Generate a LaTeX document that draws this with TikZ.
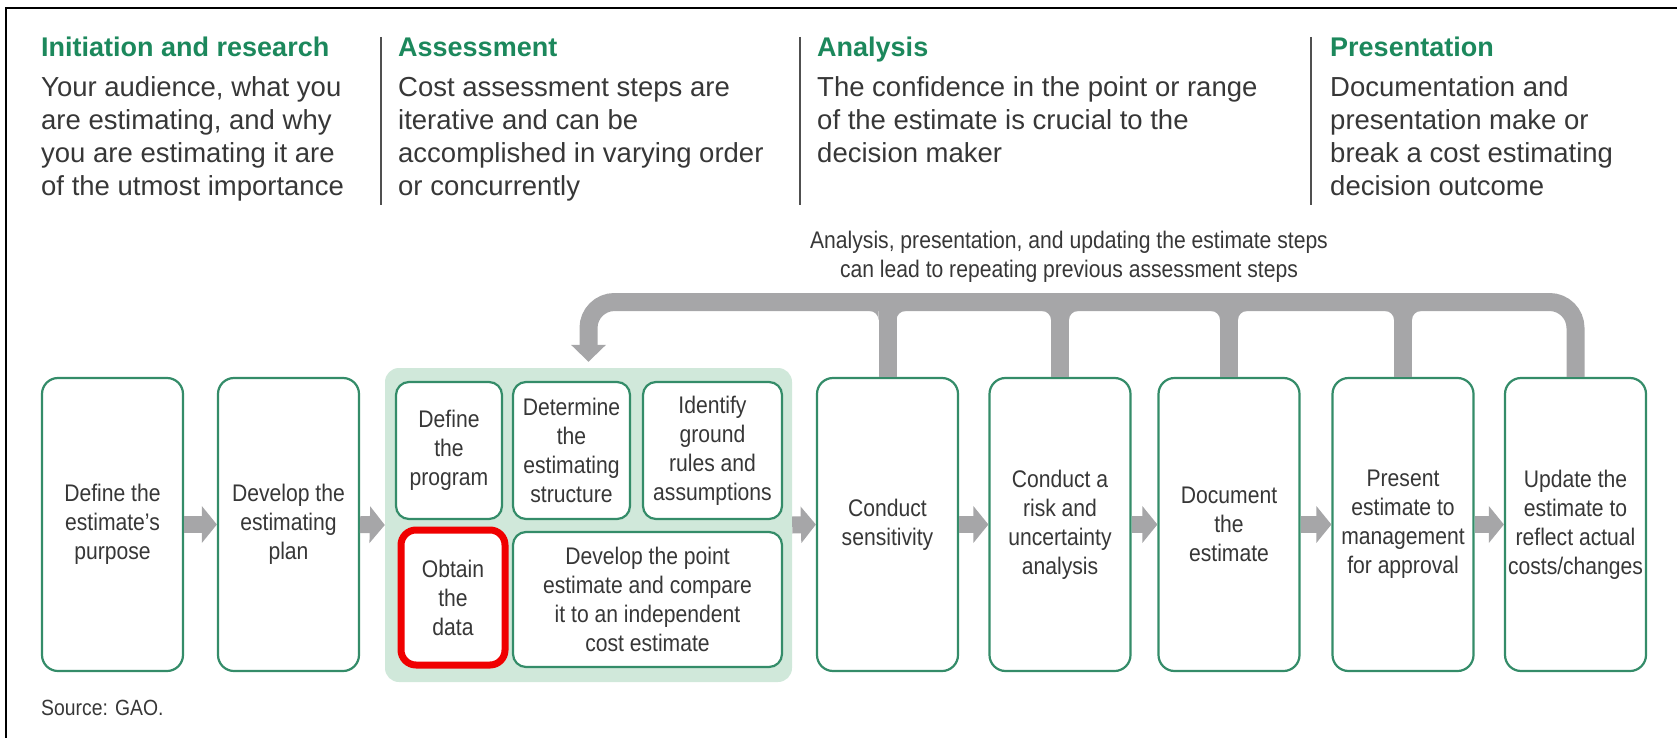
\documentclass[tikz,border=0pt]{standalone}
\usepackage{fontspec}
\setmainfont{Liberation Sans}
\newfontfamily\boxfont{Liberation Sans}[FakeStretch=0.88]
\usetikzlibrary{arrows.meta,calc}
\definecolor{boxgreen}{RGB}{52,140,105}
\definecolor{mint}{RGB}{208,232,218}
\definecolor{loopgray}{RGB}{166,166,168}
\definecolor{textgray}{RGB}{55,55,55}
\definecolor{hdrgreen}{RGB}{28,136,92}
\definecolor{divgray}{RGB}{80,80,80}
\definecolor{hired}{RGB}{240,0,0}
\begin{document}
\begin{tikzpicture}[x=1pt,y=-1pt,
  stepbox/.style={draw=boxgreen, line width=2.2pt, rounded corners=16pt, fill=white,
    minimum width=141pt, minimum height=293pt, inner sep=0pt, align=center,
    text=textgray, font=\boxfont\fontsize{24}{29}\selectfont},
  subbox/.style={stepbox, rounded corners=13pt, minimum height=137pt},
  flow/.style={draw=loopgray, line width=17pt, -{Triangle[length=15pt,width=36pt]}},
  loopline/.style={draw=loopgray, line width=18pt},
  hdr/.style={anchor=base west, inner sep=0pt, text=hdrgreen, font=\bfseries\fontsize{27}{32.7}\selectfont},
  body/.style={anchor=base west, inner sep=0pt, align=left, text=textgray, font=\fontsize{27.5}{32.7}\selectfont},
  divider/.style={draw=divgray, line width=1.5pt},
  note/.style={inner sep=0pt, align=center, text=textgray, font=\boxfont\fontsize{24}{29}\selectfont}
]
\useasboundingbox (0,0) rectangle (1677,738);
% frame (top and left edges)
\draw[line width=2.6pt] (1677,8) -- (6,8) -- (6,738);

% headers (multi-line nodes are anchored at the baseline of their last line)
\node[hdr] (h1) at (41,57) {Initiation and research};
\node[hdr] (h2) at (398,57) {Assessment};
\node[hdr] (h3) at (817,57) {Analysis};
\node[hdr] (h4) at (1330,57) {Presentation};
\node[body] (t1) at (41,195) {Your audience, what you\\are estimating, and why\\you are estimating it are\\of the utmost importance};
\node[body] (t2) at (398,195) {Cost assessment steps are\\iterative and can be\\accomplished in varying order\\or concurrently};
\node[body] (t3) at (817,162.4) {The confidence in the point or range\\of the estimate is crucial to the\\decision maker};
\node[body] (t4) at (1330,195) {Documentation and\\presentation make or\\break a cost estimating\\decision outcome};
\draw[divider] (381,37) -- (381,205);
\draw[divider] (800,37) -- (800,205);
\draw[divider] (1311,37) -- (1311,205);

% loop caption
\node[note, anchor=base] (cap) at (1069,277) {Analysis, presentation, and updating the estimate steps\\can lead to repeating previous assessment steps};

% main boxes
\node[stepbox] (b1) at (112.5,524.5) {Define the\\estimate’s\\purpose};
\node[stepbox] (b2) at (288.5,524.5) {Develop the\\estimating\\plan};
\node[fill=mint, rounded corners=14pt, minimum width=407pt, minimum height=314pt, inner sep=0pt] (grp) at (588.5,525) {};
\node[subbox, minimum width=106pt] (p1) at (449,450.5) {Define\\the\\program};
\node[subbox, minimum width=117pt] (p2) at (571.5,450.5) {Determine\\the\\estimating\\structure};
\node[subbox, minimum width=139pt] (p3) at (712.5,450.5) {Identify\\ground\\rules and\\assumptions};
\node[subbox, draw=hired, line width=7pt, rounded corners=15pt, minimum width=104pt, minimum height=135pt] (p4) at (453,597.5) {Obtain\\the\\data};
\node[subbox, minimum width=269pt, minimum height=135pt] (p5) at (647.5,599.5) {Develop the point\\estimate and compare\\it to an independent\\cost estimate};
\node[stepbox] (b3) at (887.5,524.5) {Conduct\\sensitivity};
\node[stepbox] (b4) at (1060,524.5) {Conduct a\\risk and\\uncertainty\\analysis};
\node[stepbox] (b5) at (1229,524.5) {Document\\the\\estimate};
\node[stepbox] (b6) at (1403,524.5) {Present\\estimate to\\management\\for approval};
\node[stepbox] (b7) at (1575.5,524.5) {Update the\\estimate to\\reflect actual\\costs/changes};

% flow arrows
\draw[flow] (b1.east) -- (b2.west);
\draw[flow] (b2.east) -- (grp.west);
\draw[flow] (grp.east) -- (b3.west);
\draw[flow] (b3.east) -- (b4.west);
\draw[flow] (b4.east) -- (b5.west);
\draw[flow] (b5.east) -- (b6.west);
\draw[flow] (b6.east) -- (b7.west);

% feedback loop
\coordinate (bar) at (0,302);
\draw[loopline, rounded corners=26pt, -{Triangle[length=17pt,width=34pt]}, shorten >=6pt]
  (b7.north) -- (b7.north |- bar) -- (grp.north |- bar) -- (grp.north);
\foreach \n in {b3,b4,b5,b6} {
  \draw[loopline] (\n.north) -- (\n.north |- bar);
  \coordinate (kl) at ($(\n.north |- bar)+(-9,9)$);
  \coordinate (kr) at ($(\n.north |- bar)+(9,9)$);
  \fill[loopgray] ($(kl)+(-9,0)$) -- (kl) -- ($(kl)+(0,9)$) .. controls ($(kl)+(0,4)$) and ($(kl)+(-4,0)$) .. ($(kl)+(-9,0)$) -- cycle;
  \fill[loopgray] ($(kr)+(9,0)$) -- (kr) -- ($(kr)+(0,9)$) .. controls ($(kr)+(0,4)$) and ($(kr)+(4,0)$) .. ($(kr)+(9,0)$) -- cycle;
}

% source
\node[note, anchor=base west, font=\boxfont\fontsize{22}{26}\selectfont] (src) at (41,715) {Source: GAO.};
\end{tikzpicture}
\end{document}
